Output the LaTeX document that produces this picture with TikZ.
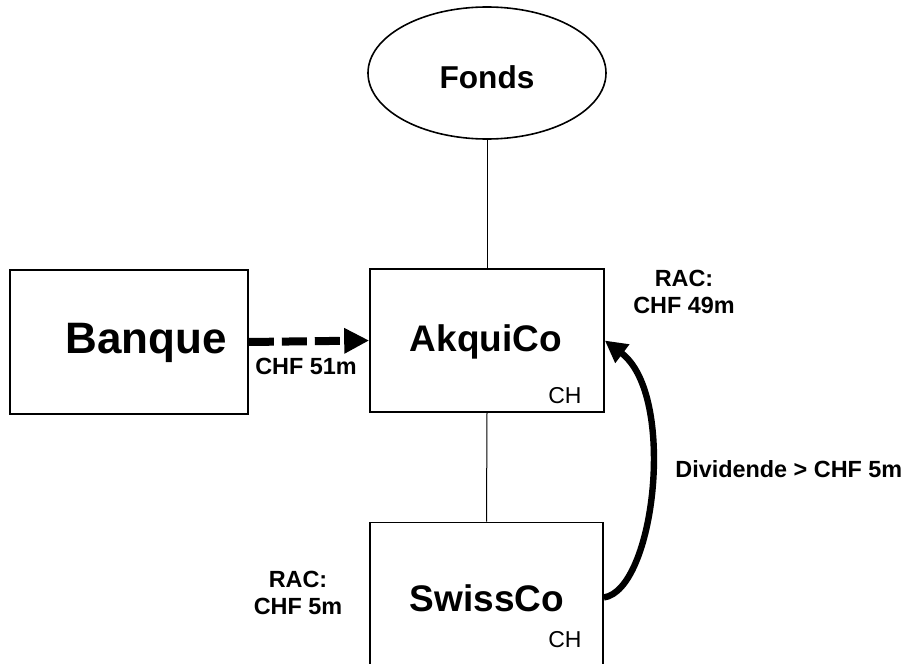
\documentclass[tikz,border=0pt]{standalone}
\usepackage{fontspec}
\setmainfont{Liberation Sans}
\usetikzlibrary{shapes.geometric,arrows.meta}
\begin{document}
\begin{tikzpicture}[x=0.5pt,y=-0.5pt,
  entity/.style={draw,line width=0.8pt,rectangle,inner sep=0pt,font=\bfseries},
  tie/.style={line width=0.5pt},
  note/.style={font=\bfseries\fontsize{11.7}{13.5}\selectfont,align=center,inner sep=0pt},
  country/.style={font=\fontsize{11.5}{13}\selectfont,inner sep=0pt}]
\useasboundingbox (0,0) rectangle (906,664);
\fill[white] (0,0) rectangle (906,664);

% entities
\node[draw,line width=0.8pt,ellipse,minimum width=119pt,minimum height=66pt,inner sep=0pt]
  (fonds) at (487,73) {};
\node[font=\bfseries\fontsize{15.8}{18}\selectfont] (fondslbl) at (487,77) {Fonds};

\node[entity,minimum width=119pt,minimum height=72pt] (banque) at (129,342) {};
\node[font=\bfseries\fontsize{22}{26}\selectfont] (banquelbl) at (146,343) {Banque};

\node[entity,minimum width=117pt,minimum height=71.5pt] (akqui) at (487,340.5) {};
\node[font=\bfseries\fontsize{18.5}{22}\selectfont] (akquilbl) at (486,342) {AkquiCo};
\node[country] (ch1) at (565,396) {CH};

\node[entity,minimum width=116.5pt,minimum height=75pt] (swiss) at (486.5,597.5) {};
\node[font=\bfseries\fontsize{18.5}{22}\selectfont] (swisslbl) at (487,598) {SwissCo};
\node[country] (ch2) at (565,640) {CH};

% ownership lines
\draw[tie] (fonds.south) -- (akqui.north);
\draw[tie] (akqui.south) -- (swiss.north);

% financing and dividend flows
\draw[line width=4pt,dash pattern=on 12.5pt off 4pt,-{Triangle[length=12.5pt,width=12pt]}]
  (banque.east) -- (akqui.west);
\draw[line width=3.2pt,-{Triangle[length=11pt,width=11pt]}]
  (swiss.east) .. controls (655,590) and (677,395) .. (akqui.east);

% labels
\node[note] (rac1) at (684,292) {RAC:\\CHF 49m};
\node[note] (loan) at (306,366) {CHF 51m};
\node[note,anchor=west] (div) at (675,469) {Dividende > CHF 5m};
\node[note] (rac2) at (298,593) {RAC:\\CHF 5m};
\end{tikzpicture}
\end{document}
